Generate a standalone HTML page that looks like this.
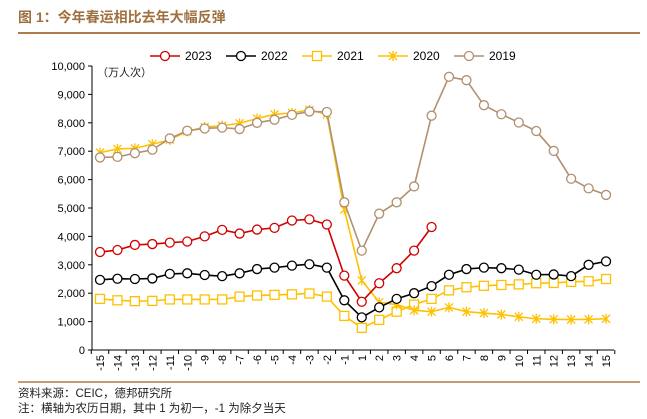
<!DOCTYPE html>
<html><head><meta charset="utf-8"><style>
body{margin:0;background:#fff;width:647px;height:414px;overflow:hidden;font-family:"Liberation Sans","Noto Sans CJK SC",sans-serif}
</style></head><body>
<svg width="647" height="414" font-family="Liberation Sans, Noto Sans CJK SC, sans-serif">
<text x="18" y="22" font-size="14" font-weight="bold" fill="#a07040">图 1：今年春运相比去年大幅反弹</text>
<line x1="18" y1="33" x2="640" y2="33" stroke="#b07a4a" stroke-width="2"/>
<line x1="18" y1="382" x2="640" y2="382" stroke="#b07a4a" stroke-width="1.5"/>
<text x="18" y="397" font-size="11.5" fill="#222">资料来源：CEIC，德邦研究所</text>
<text x="18" y="412" font-size="11.5" fill="#222">注：横轴为农历日期，其中 1 为初一，-1 为除夕当天</text>
<text x="97" y="76" font-size="11" fill="#222">（万人次）</text>
<g id="axes"></g><g id="series"></g><g id="legend"></g>
</svg>
<script>
const categories=[-15,-14,-13,-12,-11,-10,-9,-8,-7,-6,-5,-4,-3,-2,-1,1,2,3,4,5,6,7,8,9,10,11,12,13,14,15];
const yTicks=[0,1000,2000,3000,4000,5000,6000,7000,8000,9000,10000];
const s2023=[3450,3520,3700,3730,3780,3820,4000,4230,4100,4240,4300,4560,4600,4420,2620,1700,2350,2880,3500,4330];
const s2022=[2470,2510,2500,2520,2680,2700,2640,2600,2700,2850,2900,2970,3020,2900,1750,1150,1500,1800,2000,2250,2650,2850,2900,2880,2830,2650,2660,2600,3000,3120];
const s2021=[1800,1750,1720,1730,1780,1780,1780,1780,1880,1920,1940,1960,1990,1880,1200,780,1060,1350,1600,1800,2100,2210,2260,2290,2310,2350,2360,2400,2420,2500];
const s2020=[6950,7080,7100,7250,7400,7700,7850,7900,7980,8150,8300,8350,8450,8300,4950,2450,1680,1600,1400,1350,1500,1350,1300,1250,1170,1100,1080,1070,1080,1100];
const s2019=[6780,6800,6930,7050,7450,7720,7800,7830,7780,8000,8110,8280,8400,8380,5200,3500,4800,5200,5760,8250,9620,9500,8620,8300,8010,7710,7010,6030,5690,5460];
const NS="http://www.w3.org/2000/svg";
const x0=100,dx=17.45,yb=350,yt=66;
const X=i=>x0+i*dx, Y=v=>yb-(v/10000)*(yb-yt);
function el(t,a,p){const e=document.createElementNS(NS,t);for(const k in a)e.setAttribute(k,a[k]);p.appendChild(e);return e;}
const ax=document.getElementById('axes');
const yl=el('line',{x1:92,y1:yt,x2:92,y2:yb,stroke:'#000'},ax);


const xl=el('line',{x1:92,y1:yb,x2:614,y2:yb,stroke:'#000'},ax);


yTicks.forEach(v=>{
 el('line',{x1:88,y1:Y(v),x2:92,y2:Y(v),stroke:'#000'},ax);
 const t=el('text',{x:85,y:Y(v)+4,'font-size':11,'text-anchor':'end',fill:'#000'},ax);
 t.textContent=v.toLocaleString('en-US');
 
 
});
categories.forEach((c,i)=>{
 el('line',{x1:X(i)-dx/2,y1:yb,x2:X(i)-dx/2,y2:yb+4,stroke:'#000'},ax);
 const t=el('text',{x:0,y:0,'font-size':11,'text-anchor':'end',fill:'#000',transform:`translate(${X(i)+4},${yb+5}) rotate(-90)`},ax);
 t.textContent=c;
 
 
});
el('line',{x1:X(29)+dx/2,y1:yb,x2:X(29)+dx/2,y2:yb+4,stroke:'#000'},ax);
const sg=document.getElementById('series');
function marker(g,type,x,y,col){
 if(type==='circle'){el('circle',{cx:x,cy:y,r:4.5,fill:'#fff',stroke:col,'stroke-width':1.3},g);}
 else if(type==='square'){el('rect',{x:x-4.5,y:y-4.5,width:9,height:9,fill:'#fff',stroke:col,'stroke-width':1.3},g);}
 else {el('path',{d:`M${x-4},${y-4}L${x+4},${y+4}M${x-4},${y+4}L${x+4},${y-4}M${x},${y-5}L${x},${y+5}`,stroke:col,'stroke-width':1.3},g);}
}
const series=[['2021',s2021,'#ffc000','square'],['2020',s2020,'#ffc000','star'],['2019',s2019,'#b09070','circle'],['2022',s2022,'#000000','circle'],['2023',s2023,'#d00000','circle']];
series.forEach(([n,d,col,m])=>{
 const g=el('g',{},sg);
 
 
 el('polyline',{points:d.map((v,i)=>X(i)+','+Y(v)).join(' '),fill:'none',stroke:col,'stroke-width':1.6},g);
 d.forEach((v,i)=>marker(g,m,X(i),Y(v),col));
});
const lg=document.getElementById('legend');
const items=[['2023','#d00000','circle',150],['2022','#000000','circle',226],['2021','#ffc000','square',302],['2020','#ffc000','star',378],['2019','#b09070','circle',454]];
items.forEach(([n,col,m,x])=>{
 const g=el('g',{},lg);
 
 
 el('line',{x1:x,y1:56,x2:x+30,y2:56,stroke:col,'stroke-width':1.6},g);
 marker(g,m,x+15,56,col);
 const t=el('text',{x:x+35,y:60,'font-size':12,fill:'#000'},g);
 t.textContent=n;
});
</script>
</body></html>
